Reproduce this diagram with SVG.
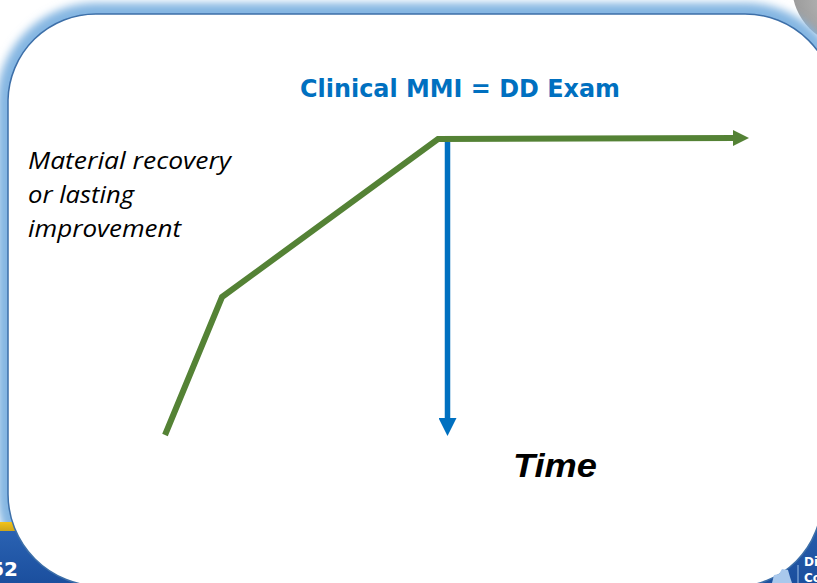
<svg xmlns="http://www.w3.org/2000/svg" width="817" height="583" viewBox="0 0 817 583">
  <style>
    .title { font-family: "DejaVu Sans", Verdana, sans-serif; font-weight: bold; font-size: 24px; fill: #0070C0; }
    .lbl { font-family: "Open Sans", "Liberation Sans", sans-serif; font-style: italic; font-size: 24px; fill: #000000; }
    .time { font-family: "Liberation Sans", Arial, sans-serif; font-style: italic; font-weight: bold; font-size: 33px; fill: #000000; }
    .band { font-family: "DejaVu Sans", Verdana, sans-serif; font-weight: bold; fill: #ffffff; }
    .green { fill: none; stroke: #548235; stroke-width: 6; stroke-linejoin: miter; stroke-miterlimit: 6; }
    .blue { fill: none; stroke: #0070C0; stroke-width: 5.5; }
  </style>
  <defs>
    <filter id="glow" x="-10%" y="-10%" width="120%" height="120%">
      <feGaussianBlur stdDeviation="4"/>
    </filter>
    <radialGradient id="grayG" cx="0.4" cy="0.6" r="0.6">
      <stop offset="0" stop-color="#bdbdbd"/>
      <stop offset="1" stop-color="#8a8a8a"/>
    </radialGradient>
    <linearGradient id="blueBand" x1="0" y1="0" x2="0" y2="1">
      <stop offset="0" stop-color="#2a62b2"/>
      <stop offset="1" stop-color="#1b4f9e"/>
    </linearGradient>
    <linearGradient id="yellow" x1="0" y1="0" x2="0" y2="1">
      <stop offset="0" stop-color="#f3c319"/>
      <stop offset="1" stop-color="#c9a21b"/>
    </linearGradient>
    <marker id="arrowGreen" markerUnits="userSpaceOnUse" markerWidth="16" markerHeight="16" refX="2" refY="8" orient="auto">
      <path d="M0,0 L16,8 L0,16 z" fill="#548235"/>
    </marker>
    <marker id="arrowBlue" markerUnits="userSpaceOnUse" markerWidth="18" markerHeight="18" refX="2" refY="9" orient="auto">
      <path d="M0,0 L18,9 L0,18 z" fill="#0070C0"/>
    </marker>
  </defs>

  <g id="background">
    <rect x="0" y="0" width="817" height="583" fill="#ffffff"/>
    <circle cx="852" cy="-14" r="60" fill="url(#grayG)"/>
    <path d="M8,100 A88,88 0 0 1 96,14 L745,14 A90,90 0 0 1 835,104 L821.6,500 A86.6,86.6 0 0 1 735,586.6 L100,586 A92,92 0 0 1 8,494 Z" fill="none" stroke="#84b6e2" stroke-width="22" filter="url(#glow)"/>
    <rect x="0" y="522" width="130" height="10" fill="url(#yellow)"/>
    <rect x="0" y="531" width="130" height="52" fill="url(#blueBand)"/>
    <rect x="700" y="500" width="117" height="83" fill="url(#blueBand)"/>
    <path d="M8,100 A88,88 0 0 1 96,14 L745,14 A90,90 0 0 1 835,104 L821.6,500 A86.6,86.6 0 0 1 735,586.6 L100,586 A92,92 0 0 1 8,494 Z" fill="#ffffff" stroke="#3d6fa8" stroke-width="1.5"/>
    <text class="band" x="18" y="576" font-size="20" text-anchor="end">52</text>
    <line x1="798" y1="565" x2="798" y2="583" stroke="#9cc0e8" stroke-width="1"/>
    <path d="M772,583 L774,575 L779,574 L782,569 L788,570 L790,577 L792,583 Z" fill="#a9c8ec"/>
    <text class="band" x="804" y="566" font-size="12">Di</text>
    <text class="band" x="804" y="582" font-size="12">Co</text>
  </g>

  <g id="connectors">
    <polyline class="green" points="165,435 222,297 438,139 735,138" marker-end="url(#arrowGreen)"/>
    <line class="blue" x1="447.5" y1="142" x2="447.5" y2="420" marker-end="url(#arrowBlue)"/>
  </g>

  <g id="title">
    <text class="title" x="300" y="97" textLength="320" lengthAdjust="spacingAndGlyphs">Clinical MMI = DD Exam</text>
  </g>

  <g id="label-left">
    <text class="lbl" x="28" y="169" textLength="203" lengthAdjust="spacingAndGlyphs">Material recovery</text>
    <text class="lbl" x="28" y="203" textLength="106" lengthAdjust="spacingAndGlyphs">or lasting</text>
    <text class="lbl" x="28" y="237" textLength="153" lengthAdjust="spacingAndGlyphs">improvement</text>
  </g>

  <g id="label-time">
    <text class="time" x="513" y="477" textLength="84" lengthAdjust="spacingAndGlyphs">Time</text>
  </g>
</svg>
